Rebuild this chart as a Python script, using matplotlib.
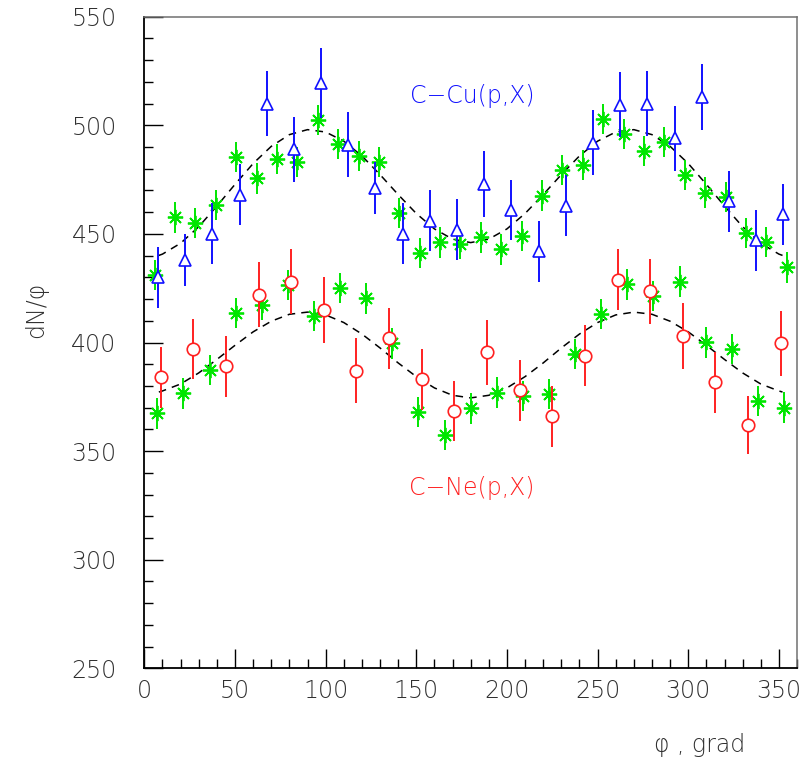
import matplotlib
matplotlib.use("Agg")
import matplotlib.pyplot as plt
from matplotlib.ticker import MultipleLocator

plt.rcParams['font.family'] = ['DejaVu Sans']
plt.rcParams['font.weight'] = 'light'
plt.rcParams['axes.labelweight'] = 'light'

# ---- data ----
# C-Cu(p,X): blue triangles
cu_phi = [7.5, 22.5, 37.5, 52.5, 67.5, 82.5, 97.5, 112.5, 127.5, 142.5, 157.5, 172.5,
          187.5, 202.5, 217.5, 232.5, 247.5, 262.5, 277.5, 292.5, 307.5, 322.5, 337.5, 352.5]
cu_val = [430, 438, 450, 468, 510, 489, 519.5, 491, 471, 450, 456, 452,
          473, 461, 442, 463, 492, 509.5, 510, 494, 513, 465, 447, 459]
cu_err = [14, 12, 14, 14, 15, 15, 16, 15, 12, 14, 14, 14,
          15, 14, 14, 14, 15, 15, 15, 15, 15, 14, 14, 14]

# C-Ne(p,X): red circles
ne_phi = [9, 27, 45, 63, 81, 99, 117, 135, 153, 171,
          189, 207, 225, 243, 261, 279, 297, 315, 333, 351]
ne_val = [384, 397, 389, 422, 428, 415, 387, 402, 383, 368.5,
          395.5, 378, 366, 394, 429, 423.6, 403, 381.7, 362, 399.7]
ne_err = [14, 14, 14, 15, 15, 15, 15, 14, 14, 14,
          15, 14, 14, 14, 14, 15, 15, 14, 13.5, 15]

# green stars, upper set (32 bins)
gu_phi = [5.625, 16.875, 28.125, 39.375, 50.625, 61.875, 73.125, 84.375,
          95.625, 106.875, 118.125, 129.375, 140.625, 151.875, 163.125, 174.375,
          185.625, 196.875, 208.125, 219.375, 230.625, 241.875, 253.125, 264.375,
          275.625, 286.875, 298.125, 309.375, 320.625, 331.875, 343.125, 354.375]
gu_val = [431.1, 457.6, 454.9, 463.3, 485.5, 475.6, 484.5, 483.2,
          502.4, 491.4, 485.9, 483.2, 459.5, 441.1, 446.1, 445.4,
          448.4, 442.9, 449.0, 467.6, 479.4, 481.7, 502.8, 496.0,
          488.2, 492.2, 477.1, 469.0, 466.9, 450.3, 446.4, 434.6]

# green stars, lower set (25 bins)
gl_phi = [7.2, 21.6, 36.0, 50.4, 64.8, 79.2, 93.6, 108.0, 122.4, 136.8, 151.2, 165.6,
          180.0, 194.4, 208.8, 223.2, 237.6, 252.0, 266.4, 280.8, 295.2, 309.6, 324.0,
          338.4, 352.8]
gl_val = [367.4, 376.6, 387.3, 413.7, 417.3, 426.5, 412.3, 425.0, 420.3, 399.6, 368.1, 357.4,
          369.7, 376.9, 375.4, 376.3, 394.7, 413.1, 426.8, 421.5, 428.0, 400.1, 397.0,
          373.1, 370.0]
g_err = 7.0

# dashed fit curves
fit_phi = [8, 10, 20, 30, 40, 50, 60, 70, 80, 90, 100, 110, 120, 130, 140, 150, 160, 170,
           180, 190, 200, 210, 220, 230, 240, 250, 260, 270, 280, 290, 300, 310, 320, 330,
           340, 350, 352]
fit_cu = [440.1, 440.7, 445.7, 453.3, 462.8, 472.8, 482.4, 490.3, 495.7, 498.0, 496.9, 492.7,
          485.9, 477.3, 468.1, 459.4, 452.3, 447.6, 446.0, 447.6, 452.3, 459.4, 468.1, 477.3,
          485.9, 492.7, 496.9, 498.0, 495.7, 490.3, 482.4, 472.8, 462.8, 453.3, 445.7, 440.7,
          440.1]
fit_ne = [377.2, 377.7, 380.9, 386.0, 392.2, 398.7, 404.9, 409.8, 413.0, 414.0, 412.7, 409.2,
          403.9, 397.5, 390.6, 384.3, 379.1, 375.7, 374.5, 375.7, 379.1, 384.3, 390.6, 397.5,
          403.9, 409.2, 412.7, 414.0, 413.0, 409.8, 404.9, 398.7, 392.2, 386.0, 380.9, 377.7,
          377.2]

x_ticks = [0, 50, 100, 150, 200, 250, 300, 350]
y_ticks = [250, 300, 350, 400, 450, 500, 550]

# ---- figure ----
fig = plt.figure(figsize=(8.05, 7.69), dpi=100)
ax = fig.add_axes([0.1793, 0.1309, 0.8108, 0.8474])

blue = '#1010ff'
red = '#ff2020'
green = '#00e600'
txt = '#303030'
fs = 17

# fits
ax.plot(fit_phi, fit_cu, color='black', lw=1.1, ls=(0, (5, 4)), zorder=2)
ax.plot(fit_phi, fit_ne, color='black', lw=1.1, ls=(0, (5, 4)), zorder=2)

# green stars
ax.errorbar(gu_phi, gu_val, yerr=g_err, fmt='none', ecolor=green, elinewidth=1.4, capsize=0, zorder=3)
ax.errorbar(gl_phi, gl_val, yerr=g_err, fmt='none', ecolor=green, elinewidth=1.4, capsize=0, zorder=3)
for ph, vv in ((gu_phi, gu_val), (gl_phi, gl_val)):
    ax.plot(ph, vv, ls='none', marker=(8, 2, 0), ms=11, mec=green, mew=1.3, zorder=4)
    ax.plot(ph, vv, ls='none', marker='o', ms=3, mfc=green, mec=green, zorder=4)

# blue triangles
ax.errorbar(cu_phi, cu_val, yerr=cu_err, fmt='none', ecolor=blue, elinewidth=1.4, capsize=0, zorder=5)
ax.plot(cu_phi, cu_val, ls='none', marker='^', ms=9, mfc='white', mec=blue, mew=1.2, zorder=6)

# red circles
ax.errorbar(ne_phi, ne_val, yerr=ne_err, fmt='none', ecolor=red, elinewidth=1.4, capsize=0, zorder=5)
ax.plot(ne_phi, ne_val, ls='none', marker='o', ms=9, mfc='white', mec=red, mew=1.2, zorder=6)

ax.text(180.6, 513.5, 'C\u2212Cu(p,X)', color=blue, fontsize=fs, ha='center', va='center')
ax.text(180.6, 333.0, 'C\u2212Ne(p,X)', color=red, fontsize=fs, ha='center', va='center')

ax.set_xlim(0, 360)
ax.set_ylim(250, 550)
ax.set_xticks(x_ticks)
ax.set_yticks(y_ticks)
ax.xaxis.set_minor_locator(MultipleLocator(10))
ax.yaxis.set_minor_locator(MultipleLocator(10))
ax.tick_params(axis='both', which='both', direction='in', top=False, right=False, color='black')
ax.tick_params(axis='both', which='major', length=13.5, width=1.0, labelsize=fs, labelcolor=txt)
ax.tick_params(axis='both', which='minor', length=6.8, width=1.0)
ax.tick_params(axis='x', which='major', pad=8)
ax.tick_params(axis='y', which='major', pad=20)

for s in ('left', 'bottom'):
    ax.spines[s].set_color('black')
    ax.spines[s].set_linewidth(1.3)
for s in ('top', 'right'):
    ax.spines[s].set_color('#707070')
    ax.spines[s].set_linewidth(1.1)

ax.set_ylabel('dN/\u03c6', fontsize=fs, color=txt, fontweight='light')
ax.yaxis.set_label_coords(-0.148, 0.55)
ax.text(0.92, -0.118, '\u03c6 , grad', transform=ax.transAxes, fontsize=fs,
        ha='right', va='center', color=txt, fontweight='light')

fig.savefig('out.png', dpi=100)
